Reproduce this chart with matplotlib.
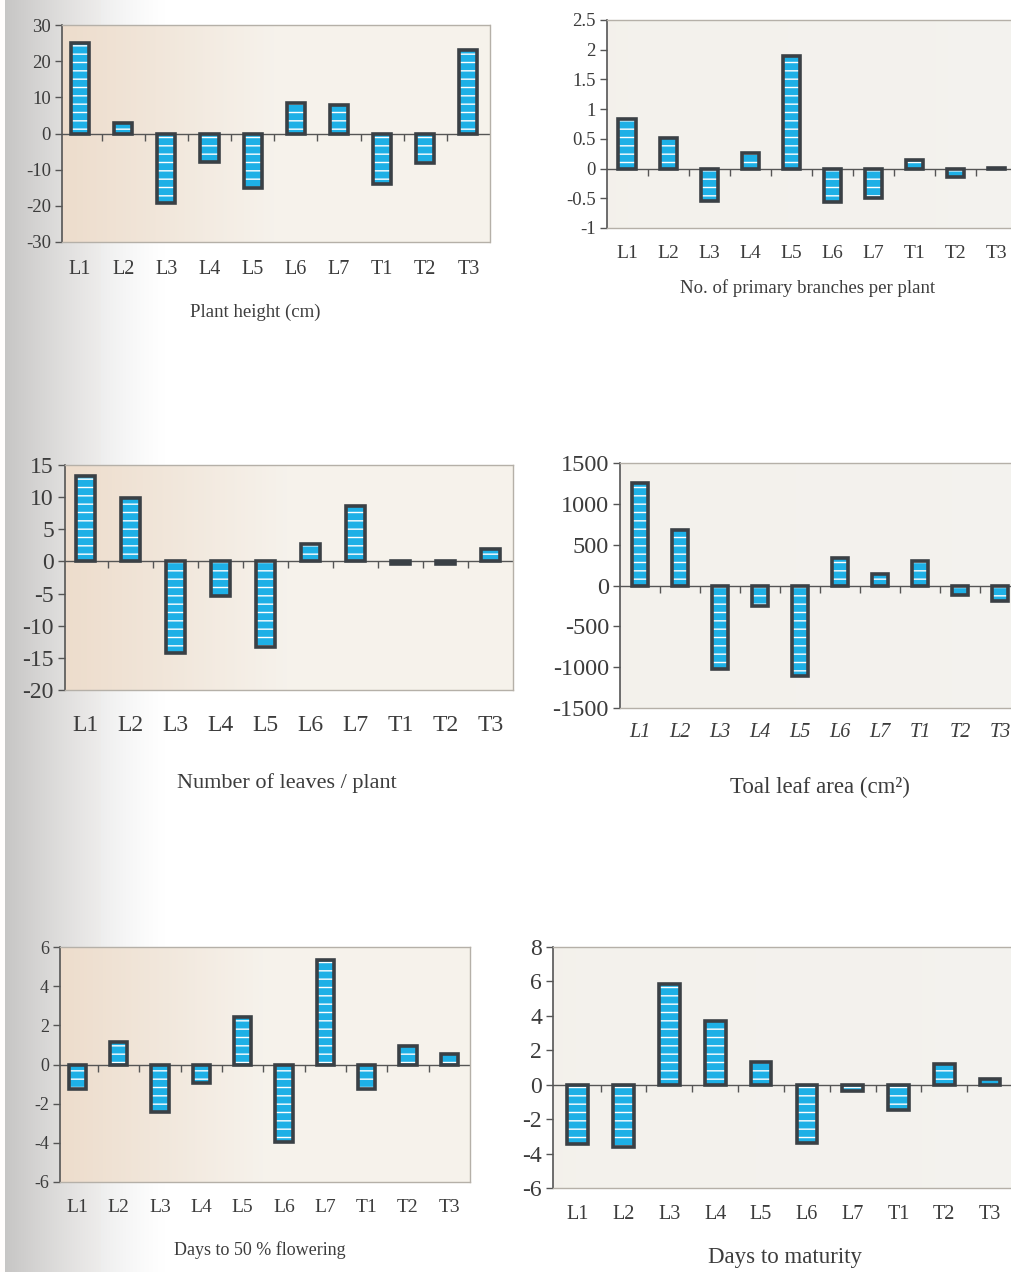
import numpy as np
import matplotlib
matplotlib.use('Agg')
import matplotlib.pyplot as plt
from matplotlib.ticker import FuncFormatter, FixedLocator

# valeurs
categories = ['L1', 'L2', 'L3', 'L4', 'L5', 'L6', 'L7', 'T1', 'T2', 'T3']
plant_height = [24.9, 3.0, -19.1, -7.8, -15.2, 8.5, 7.8, -13.9, -8.1, 23.1]
primary_branches = [0.83, 0.51, -0.55, 0.26, 1.9, -0.56, -0.49, 0.14, -0.14, 0.01]
leaves_per_plant = [13.3, 9.8, -14.2, -5.3, -13.3, 2.7, 8.7, -0.4, -0.4, 1.9]
leaf_area = [1257, 682, -1020, -253, -1114, 339, 143, 306, -114, -192]
days_flowering = [-1.24, 1.14, -2.43, -0.97, 2.43, -3.95, 5.33, -1.24, 0.97, 0.56]
days_maturity = [-3.42, -3.61, 5.85, 3.71, 1.31, -3.38, -0.37, -1.47, 1.22, 0.35]

W, H = 1011, 1272
BAR = '#1eb0e6'
EDGE = '#3a4045'
TXT = '#3c3c3c'

plt.rcParams['font.family'] = ['Liberation Serif', 'DejaVu Serif']
plt.rcParams['axes.unicode_minus'] = False
plt.rcParams['hatch.linewidth'] = 1.0

fig = plt.figure(figsize=(W / 100, H / 100), dpi=100)

# ombre de la reliure a gauche
bg = fig.add_axes([0, 0, 1, 1], zorder=-10)
x = np.arange(W)
shade = np.where(x < 5, 1.0, 1 - 0.22 * np.clip(1 - (x - 5) / 160, 0, 1) ** 1.3)
img = np.ones((1, W, 3))
img[0, :, 0] = shade
img[0, :, 1] = shade * 0.995 + 0.005 * (x > 100)
img[0, :, 2] = shade * 0.99 + 0.01 * (x > 100)
bg.imshow(img, aspect='auto', extent=[0, 1, 0, 1])
bg.set_axis_off()


def fig_box(left, top, right, bottom):
    return [left / W, 1 - bottom / H, (right - left) / W, (bottom - top) / H]


def draw_panel(box, values, ylim, ystep, xlim_left, title, title_xy,
               ytick_size, xtick_size, title_size, xpad, warm, italic=False,
               width=0.42):
    ax = fig.add_axes(fig_box(*box))
    pos = np.arange(len(categories))

    # fond de la zone de tracé
    grad = np.linspace(0, 1, 200)
    if warm:
        c0 = np.array([0.93, 0.865, 0.80])
        c1 = np.array([0.965, 0.95, 0.925])
        t = np.clip(grad / 0.5, 0, 1)[None, :, None]
    else:
        c0 = np.array([0.955, 0.945, 0.925])
        c1 = np.array([0.955, 0.95, 0.935])
        t = grad[None, :, None]
    face = c0 * (1 - t) + c1 * t
    ax.imshow(face, aspect='auto', extent=[0, 1, 0, 1], transform=ax.transAxes,
              zorder=0)

    ax.bar(pos, values, width=width, color=BAR, edgecolor='white', hatch='--',
           linewidth=0, zorder=2)
    ax.bar(pos, values, width=width, fill=False, edgecolor=EDGE, linewidth=2.6,
           zorder=3)

    ax.axhline(0, color='#555555', linewidth=1.0, zorder=1)
    bounds = pos[:-1] + 0.5
    ax.plot(bounds, np.zeros(len(bounds)), linestyle='none', marker=3,
            markersize=5, color='#555555', zorder=1)

    ax.set_xlim(xlim_left, len(categories) - 0.5)
    ax.set_ylim(*ylim)
    ax.yaxis.set_major_locator(FixedLocator(np.arange(ylim[0], ylim[1] + ystep / 2, ystep)))
    ax.yaxis.set_major_formatter(FuncFormatter(lambda v, p: '%g' % round(v, 3)))
    ax.tick_params(axis='y', direction='out', length=5, width=1, color='#555555',
                   labelsize=ytick_size, labelcolor=TXT, pad=3)
    ax.set_xticks(pos)
    ax.set_xticklabels(categories, fontsize=xtick_size, color=TXT,
                       style='italic' if italic else 'normal')
    ax.tick_params(axis='x', length=0, pad=xpad)

    ax.spines['left'].set_color('#555555')
    ax.spines['left'].set_linewidth(1.2)
    for s in ('top', 'right', 'bottom'):
        ax.spines[s].set_color('#b5b0a8')
        ax.spines[s].set_linewidth(1.0)
        ax.spines[s].set_linestyle((0, (2, 1)))

    fig.text(title_xy[0] / W, 1 - title_xy[1] / H, title, fontsize=title_size,
             color=TXT, ha='center', va='center')
    return ax


draw_panel((62, 25, 490, 242), plant_height, (-30, 30), 10, -0.42,
           'Plant height (cm)', (255, 312), 13.5, 14.5, 13.5, 13, True)
draw_panel((607, 20, 1017, 228), primary_branches, (-1, 2.5), 0.5, -0.49,
           'No. of primary branches per plant', (808, 288), 13.5, 14, 13.5, 12, False)
draw_panel((65, 465, 513, 690), leaves_per_plant, (-20, 15), 5, -0.46,
           'Number of leaves / plant', (287, 783), 17, 17, 16, 18, True)
draw_panel((620, 463, 1020, 708), leaf_area, (-1500, 1500), 500, -0.5,
           'Toal leaf area (cm²)', (820, 787), 17.5, 14.5, 16.5, 11, False, italic=True)
draw_panel((60, 947, 470, 1182), days_flowering, (-6, 6), 2, -0.42,
           'Days to 50 % flowering', (260, 1250), 13, 14, 13, 12, True)
draw_panel((553, 947, 1013, 1188), days_maturity, (-6, 8), 2, -0.54,
           'Days to maturity', (785, 1258), 17, 14.5, 16.5, 12, False, width=0.45)

fig.savefig('out.png', dpi=100)
